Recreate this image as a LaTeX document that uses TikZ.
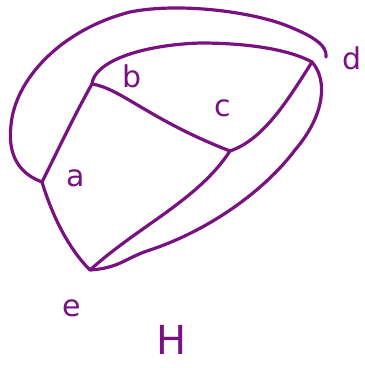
\documentclass[tikz,border=0pt]{standalone}
\usepackage{fontspec}
\setmainfont{DejaVu Sans}
\definecolor{ink}{RGB}{120,18,128}
\begin{document}
\begin{tikzpicture}[x=1pt,y=-1pt,
  edge/.style={draw=ink,line width=3.2pt,line cap=round,line join=round},
  lbl/.style={text=ink,font=\fontsize{30}{32}\selectfont,inner sep=0pt}]
\useasboundingbox (0,0) rectangle (365,368);
\coordinate (a) at (42,182);
\coordinate (b) at (92,84);
\coordinate (c) at (230,151);
\coordinate (d) at (312,62);
\coordinate (e) at (90,270);
\coordinate (dend) at (326,57);
% inner edges
\draw[edge] (a) .. controls (58,150) and (76,112) .. (b);
\draw[edge] (a) .. controls (52,215) and (68,248) .. (e);
\draw[edge] (b) .. controls (120,88) and (150,120) .. (c);
\draw[edge] (c) .. controls (262,140) and (285,105) .. (d);
\draw[edge] (c) .. controls (198,200) and (140,225) .. (e);
\draw[edge] (b) .. controls (94,62) and (140,45) .. (200,43) .. controls (250,43) and (290,50) .. (d);
% outer edges
\draw[edge] (a) .. controls (15,172) and (8,150) .. (11,125) .. controls (15,80) and (60,30) .. (130,12) .. controls (180,2) and (255,12) .. (290,27) .. controls (310,35) and (328,45) .. (dend);
\draw[edge] (d) .. controls (328,80) and (325,115) .. (295,150) .. controls (265,190) and (210,230) .. (150,250) .. controls (125,258) and (120,268) .. (e);
% labels
\node[lbl] (la) at (76,178) {a};
\node[lbl] (lb) at (132,76) {b};
\node[lbl] (lc) at (223,108) {c};
\node[lbl] (ld) at (352,58) {d};
\node[lbl] (le) at (72,308) {e};
\node[lbl,font=\fontsize{40}{42}\selectfont] (lH) at (172,340) {H};
\end{tikzpicture}
\end{document}
